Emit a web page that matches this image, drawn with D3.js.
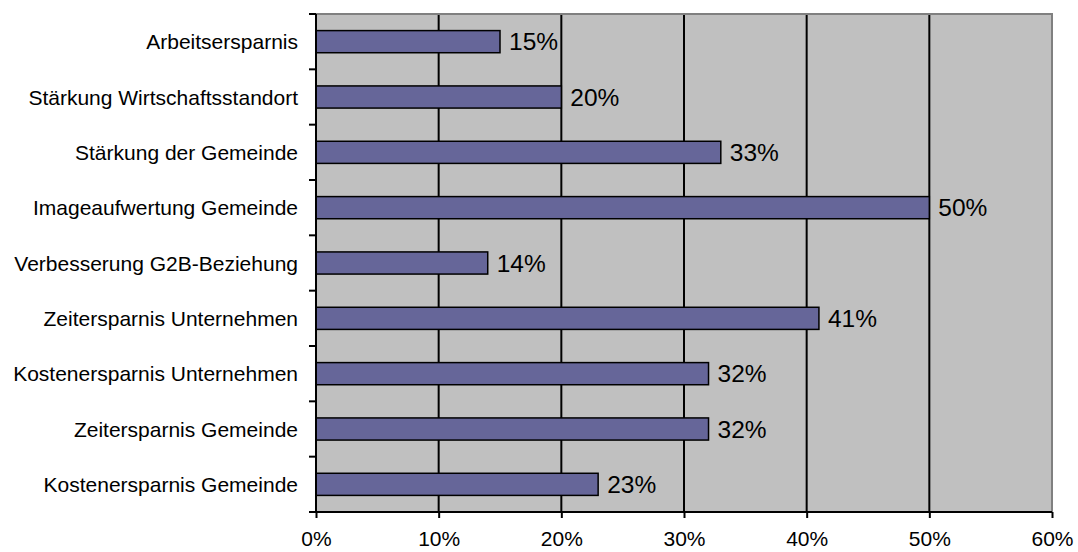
<!DOCTYPE html>
<html>
<head>
<meta charset="utf-8">
<script src="https://cdn.jsdelivr.net/npm/d3@7"></script>
<style>
  html, body { margin: 0; padding: 0; background: #fff; }
  svg { display: block; font-family: "Liberation Sans", Arial, sans-serif; }
</style>
</head>
<body>
<svg id="chart" width="1078" height="552"></svg>
<script>
const categories = [
  'Arbeitsersparnis',
  'Stärkung Wirtschaftsstandort',
  'Stärkung der Gemeinde',
  'Imageaufwertung Gemeinde',
  'Verbesserung G2B-Beziehung',
  'Zeitersparnis Unternehmen',
  'Kostenersparnis Unternehmen',
  'Zeitersparnis Gemeinde',
  'Kostenersparnis Gemeinde'
];
const values = [15, 20, 33, 50, 14, 41, 32, 32, 23];
const xTicks = [0, 10, 20, 30, 40, 50, 60];

const margin = { top: 14, right: 26, bottom: 40, left: 316 };
const width = 1078 - margin.left - margin.right;
const height = 552 - margin.top - margin.bottom;

const svg = d3.select('#chart');
const g = svg.append('g').attr('transform', `translate(${margin.left},${margin.top})`);

const x = d3.scaleLinear().domain([0, 60]).range([0, width]);
const y = d3.scaleBand().domain(categories).range([0, height]).paddingInner(0.6).paddingOuter(0.3);

// plot background
g.append('rect')
  .attr('width', width)
  .attr('height', height)
  .attr('fill', '#c0c0c0');

// gridlines
g.selectAll('line.grid')
  .data(xTicks.filter(d => d > 0 && d < 60))
  .enter()
  .append('line')
  .attr('class', 'grid')
  .attr('x1', d => x(d))
  .attr('x2', d => x(d))
  .attr('y1', 0)
  .attr('y2', height)
  .attr('stroke', '#000')
  .attr('stroke-width', 2);

// top + right border
g.append('path')
  .attr('d', `M0,0H${width}V${height}`)
  .attr('fill', 'none')
  .attr('stroke', '#808080')
  .attr('stroke-width', 2);

// bars
g.selectAll('rect.bar')
  .data(values)
  .enter()
  .append('rect')
  .attr('class', 'bar')
  .attr('x', 0)
  .attr('y', (d, i) => y(categories[i]))
  .attr('width', d => x(d))
  .attr('height', y.bandwidth())
  .attr('fill', '#666699')
  .attr('stroke', '#000')
  .attr('stroke-width', 1.5);

// value labels
g.selectAll('text.val')
  .data(values)
  .enter()
  .append('text')
  .attr('class', 'val')
  .attr('x', d => x(d) + 9)
  .attr('y', (d, i) => y(categories[i]) + y.bandwidth() / 2)
  .attr('dy', '0.36em')
  .style('font-size', '24.5px')
  .style('fill', '#000')
  .text(d => `${d}%`);

// x axis
const xAxis = g.append('g')
  .attr('transform', `translate(0,${height})`)
  .call(d3.axisBottom(x).tickValues(xTicks).tickFormat(d => `${d}%`).tickSize(6).tickPadding(13));
xAxis.select('.domain').attr('stroke-width', 2).attr('d', `M0,0H${width}`);
xAxis.selectAll('.tick line').attr('stroke-width', 2);
xAxis.selectAll('.tick text').style('font-size', '21px').style('font-family', '"Liberation Sans", Arial, sans-serif');

// y axis: line, ticks at band boundaries, labels
const boundaries = d3.range(categories.length + 1).map(i => i * height / categories.length);
g.append('line')
  .attr('x1', 0).attr('x2', 0)
  .attr('y1', 0).attr('y2', height)
  .attr('stroke', '#000')
  .attr('stroke-width', 2);
g.selectAll('line.ytick')
  .data(boundaries)
  .enter()
  .append('line')
  .attr('class', 'ytick')
  .attr('x1', -7).attr('x2', 0)
  .attr('y1', d => d).attr('y2', d => d)
  .attr('stroke', '#000')
  .attr('stroke-width', 2);
g.selectAll('text.cat')
  .data(categories)
  .enter()
  .append('text')
  .attr('class', 'cat')
  .attr('x', -18)
  .attr('y', d => y(d) + y.bandwidth() / 2)
  .attr('dy', '0.36em')
  .attr('text-anchor', 'end')
  .style('font-size', '21px')
  .style('fill', '#000')
  .text(d => d);
</script>
</body>
</html>
